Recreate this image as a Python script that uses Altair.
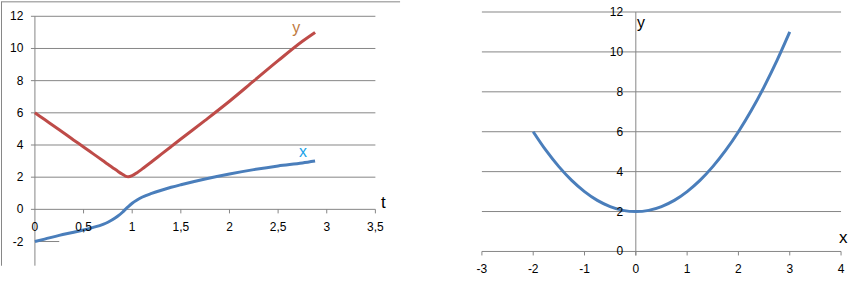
import altair as alt
import pandas as pd

# ---------------- data ----------------
# left panel: x(t) and y(t)
t_vals = [0, 0.1, 0.25, 0.4, 0.5, 0.6, 0.7, 0.75, 0.8, 0.85, 0.9, 0.93, 0.96, 1.0, 1.05, 1.1, 1.2, 1.3, 1.4,
          1.5, 1.75, 2.0, 2.25, 2.5, 2.75, 2.88]
x_of_t = [-2.0, -1.85, -1.62, -1.42, -1.28, -1.12, -0.93, -0.8, -0.63, -0.43, -0.18, 0.0, 0.17, 0.38, 0.58,
          0.75, 0.99, 1.19, 1.37, 1.53, 1.89, 2.2, 2.47, 2.7, 2.88, 3.0]
y_of_t = [6.0, 5.58, 4.95, 4.3, 3.88, 3.45, 3.02, 2.8, 2.59, 2.38, 2.18, 2.07, 2.03, 2.1, 2.28, 2.5, 2.96,
          3.43, 3.9, 4.37, 5.53, 6.72, 7.98, 9.24, 10.45, 11.0]

# right panel: y against x
x_curve = [-2, -1.75, -1.5, -1.25, -1, -0.75, -0.5, -0.25, 0, 0.25, 0.5, 0.75, 1, 1.25, 1.5, 1.75, 2, 2.25, 2.5, 2.75, 3]
y_curve = [6, 5.06, 4.25, 3.56, 3, 2.56, 2.25, 2.06, 2, 2.06, 2.25, 2.56, 3, 3.56, 4.25, 5.06, 6, 7.06, 8.25, 9.56, 11]

left_t_ticks = [0, 0.5, 1, 1.5, 2, 2.5, 3, 3.5]
left_t_labels = ["0", "0,5", "1", "1,5", "2", "2,5", "3", "3,5"]
left_v_ticks = [12, 10, 8, 6, 4, 2, 0, -2]
left_grid = [2, 4, 6, 8, 10, 12]

right_x_ticks = [-3, -2, -1, 0, 1, 2, 3, 4]
right_v_ticks = [12, 10, 8, 6, 4, 2, 0]
right_grid = [2, 4, 6, 8, 10, 12]

BLUE = "#4a7ebb"
RED = "#be4b48"
GRID = "#868686"
FONT = "Liberation Sans"

# ---------------- left panel ----------------
LW, LH = 400, 289
lx = alt.Scale(domain=[-0.3487, 3.7538], nice=False, zero=False)
ly = alt.Scale(domain=[-4.992, 12.930], nice=False, zero=False)


def lrules(df):
    return alt.Chart(df).mark_rule(color=GRID, strokeWidth=1).encode(
        x=alt.X("x0:Q", scale=lx, axis=None), x2="x1:Q",
        y=alt.Y("y0:Q", scale=ly, axis=None), y2="y1:Q")


lgrid = pd.DataFrame({"x0": -0.041, "x1": 3.5, "y0": left_grid, "y1": left_grid})
laxes = pd.DataFrame({
    "x0": [-0.041, 0, 0, -0.3436, -0.3487],
    "x1": [3.5, 0, 0.25, -0.3436, 3.7538],
    "y0": [0, 12, -2, 12.899, 12.899],
    "y1": [0, -3.5, -2, -3.504, 12.899],
})
lticks = pd.DataFrame({"x0": left_t_ticks[1:], "x1": left_t_ticks[1:], "y0": 0, "y1": -0.25})

lcurves = pd.DataFrame({
    "t": t_vals * 2,
    "v": x_of_t + y_of_t,
    "s": ["x"] * len(t_vals) + ["y"] * len(t_vals),
})
lines_left = alt.Chart(lcurves).mark_line(strokeWidth=3, interpolate="monotone").encode(
    x=alt.X("t:Q", scale=lx, axis=None),
    y=alt.Y("v:Q", scale=ly, axis=None),
    color=alt.Color("s:N", scale=alt.Scale(domain=["x", "y"], range=[BLUE, RED]), legend=None),
    detail="s:N",
)

lt_lab = alt.Chart(pd.DataFrame({"t": left_t_ticks, "lab": left_t_labels, "v": -1.10})).mark_text(
    font=FONT, fontSize=12, color="#000", align="center", baseline="middle").encode(
    x=alt.X("t:Q", scale=lx, axis=None), y=alt.Y("v:Q", scale=ly, axis=None), text="lab:N")
lv_lab = alt.Chart(pd.DataFrame({"v": left_v_ticks, "lab": [str(v) for v in left_v_ticks], "t": -0.118})).mark_text(
    font=FONT, fontSize=12, color="#000", align="right", baseline="middle").encode(
    x=alt.X("t:Q", scale=lx, axis=None), y=alt.Y("v:Q", scale=ly, axis=None), text="lab:N")

ltitles = pd.DataFrame({
    "t": [3.583, 2.756, 2.687],
    "v": [0.42, 3.566, 11.27],
    "lab": ["t", "x", "y"],
    "c": ["#000000", "#1aa3e8", "#c07a3e"],
    "fs": [17, 16, 16],
})
l_titles = alt.Chart(ltitles).mark_text(font=FONT, align="center", baseline="middle").encode(
    x=alt.X("t:Q", scale=lx, axis=None), y=alt.Y("v:Q", scale=ly, axis=None), text="lab:N",
    color=alt.Color("c:N", scale=None), size=alt.Size("fs:Q", scale=None))

left = alt.layer(lrules(lgrid), lrules(laxes), lrules(lticks), lines_left, lt_lab, lv_lab, l_titles).properties(
    width=LW, height=LH)

# ---------------- right panel ----------------
RW, RH = 465, 289
rx = alt.Scale(domain=[-4.5753, 4.4668], nice=False, zero=False)
ry = alt.Scale(domain=[-1.915, 12.535], nice=False, zero=False)


def rrules(df):
    return alt.Chart(df).mark_rule(color=GRID, strokeWidth=1).encode(
        x=alt.X("x0:Q", scale=rx, axis=None), x2="x1:Q",
        y=alt.Y("y0:Q", scale=ry, axis=None), y2="y1:Q")


rgrid = pd.DataFrame({"x0": -3, "x1": 4, "y0": right_grid, "y1": right_grid})
raxes = pd.DataFrame({"x0": [-3, 0], "x1": [4, 0], "y0": [0, 12], "y1": [0, -0.2]})
rticks = pd.DataFrame({"x0": right_x_ticks, "x1": right_x_ticks, "y0": 0, "y1": -0.2})

rline = alt.Chart(pd.DataFrame({"x": x_curve, "y": y_curve})).mark_line(
    strokeWidth=3, color=BLUE, interpolate="monotone").encode(
    x=alt.X("x:Q", scale=rx, axis=None), y=alt.Y("y:Q", scale=ry, axis=None))

rx_lab = alt.Chart(pd.DataFrame({"x": right_x_ticks, "lab": [str(v) for v in right_x_ticks], "v": -0.88})).mark_text(
    font=FONT, fontSize=12, color="#000", align="center", baseline="middle").encode(
    x=alt.X("x:Q", scale=rx, axis=None), y=alt.Y("v:Q", scale=ry, axis=None), text="lab:N")
ry_lab = alt.Chart(pd.DataFrame({"v": right_v_ticks, "lab": [str(v) for v in right_v_ticks], "x": -0.247})).mark_text(
    font=FONT, fontSize=12, color="#000", align="right", baseline="middle").encode(
    x=alt.X("x:Q", scale=rx, axis=None), y=alt.Y("v:Q", scale=ry, axis=None), text="lab:N")

rtitles = pd.DataFrame({"x": [0.103, 4.042], "v": [11.45, 0.67], "lab": ["y", "x"], "fs": [16, 17]})
r_titles = alt.Chart(rtitles).mark_text(font=FONT, align="center", baseline="middle", color="#000").encode(
    x=alt.X("x:Q", scale=rx, axis=None), y=alt.Y("v:Q", scale=ry, axis=None), text="lab:N",
    size=alt.Size("fs:Q", scale=None))

right = alt.layer(rrules(rgrid), rrules(raxes), rrules(rticks), rline, rx_lab, ry_lab, r_titles).properties(
    width=RW, height=RH)

chart = alt.hconcat(left, right, spacing=0).properties(padding=0, background="white").configure_view(
    stroke=None).configure_concat(spacing=0)

chart.save("out.html", embed_options={"renderer": "svg", "actions": False})
